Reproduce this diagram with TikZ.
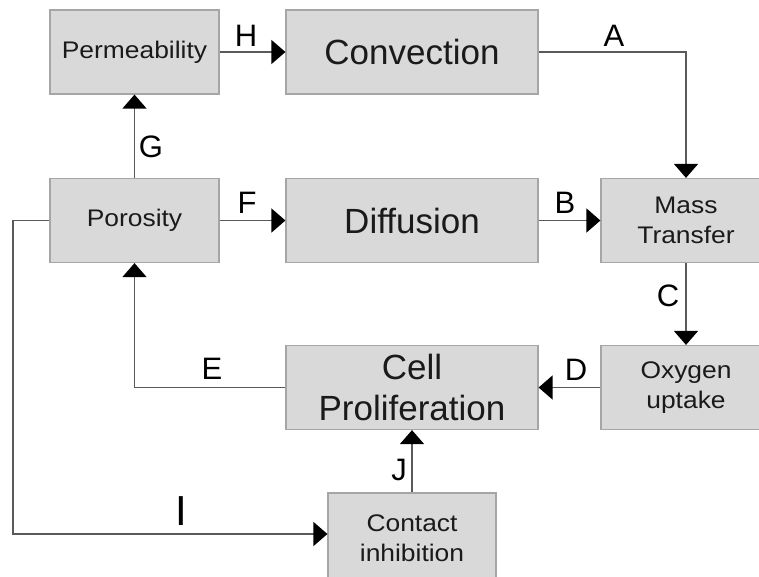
\documentclass[tikz,border=0pt]{standalone}
\usepackage{fontspec}
\setmainfont{Liberation Sans}
\newfontfamily\smallbox[FakeStretch=1.1]{Liberation Sans}
\usetikzlibrary{arrows.meta}
\definecolor{boxfill}{HTML}{D9D9D9}
\definecolor{boxedge}{HTML}{A6A6A6}
\definecolor{linegray}{HTML}{5A5A5A}
\definecolor{txt}{HTML}{1A1A1A}
\tikzset{
  box/.style={draw=boxedge, fill=boxfill, line width=1.2pt, align=center, text=txt, inner sep=0pt},
  bigbox/.style={box, minimum width=252pt, minimum height=84pt, font=\fontsize{35}{41}\selectfont},
  smallbox/.style={box, minimum width=169pt, minimum height=84pt, font=\smallbox\fontsize{24}{30}\selectfont},
  conn/.style={draw=linegray, line width=1.5pt},
  arr/.style={conn, -{Triangle[length=14pt,width=24pt,color=black]}},
  lab/.style={font=\fontsize{31}{31}\selectfont, text=black, inner sep=0pt}
}
\begin{document}
\begin{tikzpicture}[x=1pt,y=-1pt]
\useasboundingbox (0,0) rectangle (759,576);
\clip (0,0) rectangle (759,576);
\fill[white] (0,0) rectangle (759,576);
% boxes
\node[smallbox] (perm) at (134.5,52) {Permeability};
\node[bigbox] (conv) at (412,52) {Convection};
\node[smallbox] (poro) at (134.5,220.5) {Porosity};
\node[bigbox] (diff) at (412,220.5) {Diffusion};
\node[smallbox, minimum width=170pt] (mass) at (686,220.5) {Mass\\Transfer};
\node[smallbox, minimum width=170pt] (oxy) at (686,387.5) {Oxygen\\uptake};
\node[bigbox] (cell) at (412,387.5) {Cell\\Proliferation};
\node[smallbox, minimum width=168pt, minimum height=94pt] (cont) at (412,540) {\raisebox{5pt}{\begin{tabular}{@{}c@{}}Contact\\inhibition\end{tabular}}};
\coordinate (leftbend) at (13,220.5);
% connectors
\draw[arr] (perm.east) -- (conv.west);
\draw[arr] (conv.east) -| (mass.north);
\draw[arr] (poro.north) -- (perm.south);
\draw[arr] (poro.east) -- (diff.west);
\draw[arr] (diff.east) -- (mass.west);
\draw[arr] (mass.south) -- (oxy.north);
\draw[arr] (oxy.west) -- (cell.east);
\draw[arr] (cell.west) -| (poro.south);
\draw[arr] (cont.north) -- (cell.south);
\draw[arr] (poro.west) -- (leftbend) |- ([yshift=6pt]cont.west);
% labels
\node[lab] (lH) at (246,36) {H};
\node[lab] (lA) at (614,36) {A};
\node[lab] (lG) at (151,147) {G};
\node[lab] (lF) at (247,203) {F};
\node[lab] (lB) at (565,203) {B};
\node[lab] (lC) at (668,296) {C};
\node[lab] (lE) at (212,369) {E};
\node[lab] (lD) at (576,370) {D};
\node[lab] (lJ) at (399,470) {J};
\node[lab, font=\fontsize{42}{42}\selectfont] (lI) at (181,511) {I};
\end{tikzpicture}
\end{document}
